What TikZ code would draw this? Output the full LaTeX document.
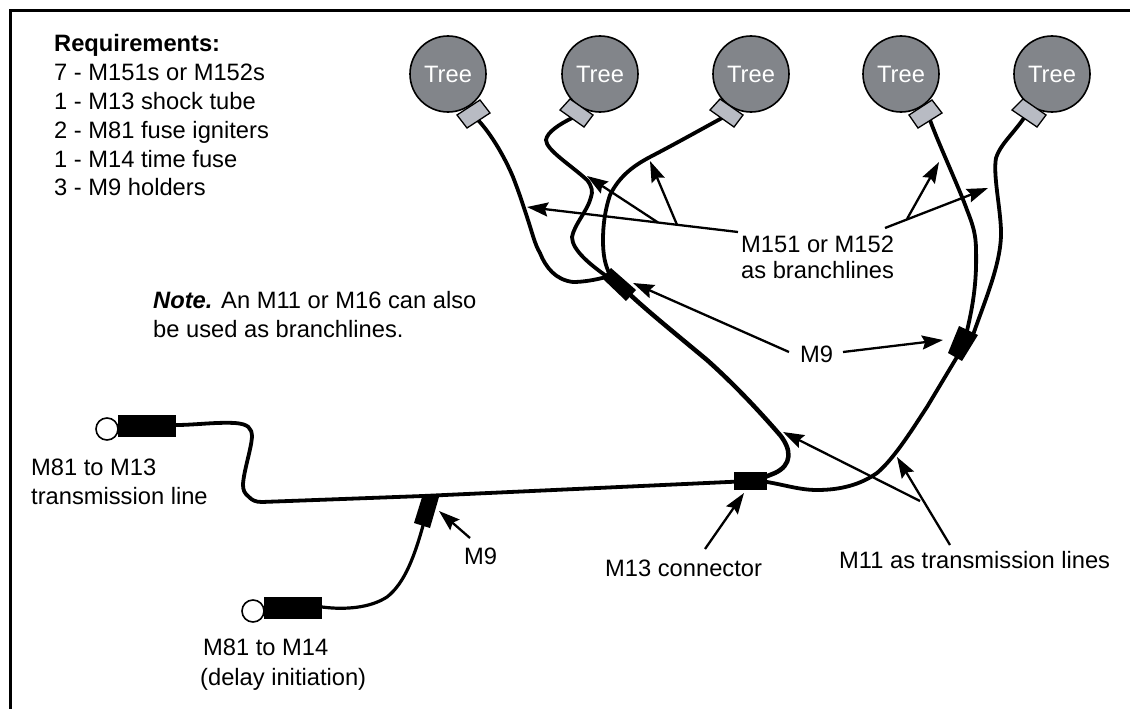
\documentclass[tikz,border=0pt]{standalone}
\usepackage{fontspec}
\setmainfont{Liberation Sans}
\usetikzlibrary{arrows.meta}
\tikzset{
  x=1pt,y=-1pt,
  label text/.style={inner sep=0pt,align=left,anchor=north west,font=\fontsize{23.7}{#1}\selectfont},
  label text/.default=29,
  wire/.style={line width=3.8pt,line cap=round,line join=round},
  thinwire/.style={line width=3.2pt,line cap=round,line join=round},
  thick wire/.style={line width=4.5pt,line cap=round,line join=round},
  pointer/.style={line width=2.3pt,-{Stealth[length=21pt,width=14pt,inset=3pt]}},
  tree/.style={circle,draw=black,line width=1.6pt,fill=treegray,text=white,minimum size=76pt,inner sep=0pt,font=\fontsize{23.7}{27}\selectfont},
  tcap/.style={draw=black,line width=1.3pt,fill=capgray},
  block/.style={fill=black,draw=none},
  igniter/.style={circle,draw=black,line width=1.6pt,fill=white,minimum size=22pt,inner sep=0pt},
}
\definecolor{treegray}{RGB}{130,133,138}
\definecolor{capgray}{RGB}{184,187,195}
\begin{document}
\begin{tikzpicture}
\useasboundingbox (0,0) rectangle (1130,709);
\draw[line width=3pt,black] (10,709) -- (10,11) -- (1130,11);

% named points
\coordinate (c1) at (478,120);
\coordinate (c2) at (572,118);
\coordinate (c3) at (722,118);
\coordinate (c4) at (930,120);
\coordinate (c5) at (1024,118);

% branch wires
\draw[wire] (c1) .. controls (492,135) and (505,158) .. (513,177)
  .. controls (520,195) and (523,205) .. (527,217)
  .. controls (532,232) and (535,245) .. (540,253)
  .. controls (546,268) and (556,280) .. (573,282)
  .. controls (583,282) and (595,280) .. (606,277);
\draw[wire] (c2) .. controls (560,124) and (547,132) .. (546,140)
  .. controls (546,150) and (572,166) .. (587,180)
  .. controls (592,186) and (593,192) .. (591,197)
  .. controls (588,210) and (574,225) .. (572,237)
  .. controls (572,250) and (590,265) .. (612,280);
\draw[wire] (c3) .. controls (700,130) and (675,144) .. (650,157)
  .. controls (635,165) and (620,175) .. (610,195)
  .. controls (605,210) and (603,225) .. (603,240)
  .. controls (603,255) and (605,265) .. (610,275);
\draw[wire] (c4) .. controls (937,140) and (960,190) .. (967,210)
  .. controls (973,225) and (976,235) .. (976,250)
  .. controls (977,285) and (972,310) .. (966,335);
\draw[wire] (c5) .. controls (1012,135) and (1000,145) .. (996,158)
  .. controls (993,175) and (1000,205) .. (1001,230)
  .. controls (1002,262) and (985,300) .. (973,335);

% trees
\node[tree] (t1) at (448,74) {Tree};
\node[tree] (t2) at (600,74) {Tree};
\node[tree] (t3) at (751,74) {Tree};
\node[tree] (t4) at (901,74) {Tree};
\node[tree] (t5) at (1052,74) {Tree};
% caps
\draw[tcap] (457,115) -- (480,100) -- (490,113) -- (467,128) -- cycle;
\draw[tcap] (560,110) -- (570,99) -- (593,115) -- (584,127) -- cycle;
\draw[tcap] (710,110) -- (720,99) -- (743,115) -- (734,127) -- cycle;
\draw[tcap] (909,115) -- (932,100) -- (942,113) -- (918,128) -- cycle;
\draw[tcap] (1012,110) -- (1023,99) -- (1046,115) -- (1037,127) -- cycle;

% transmission lines
\coordinate (m13w) at (750,481);
\draw[thick wire] (619,284) .. controls (640,305) and (665,325) .. (707,360)
  .. controls (735,385) and (760,412) .. (780,435)
  .. controls (792,450) and (792,465) .. (775,473) -- (760,479);
\draw[wire] (m13w) -- (767,482) .. controls (785,485) and (800,490) .. (817,490)
  .. controls (840,490) and (860,485) .. (877,473)
  .. controls (895,458) and (915,425) .. (927,407) -- (957,357);
\draw[wire] (m13w) -- (423,496) -- (262,502) .. controls (255,502) and (252,500) .. (249,497)
  .. controls (244,493) and (243,490) .. (243,484)
  .. controls (244,470) and (251,450) .. (252,437)
  .. controls (252,428) and (248,424) .. (235,423)
  .. controls (215,422) and (195,425) .. (176,425);
\draw[thinwire] (322,607) .. controls (345,610) and (370,608) .. (387,597)
  .. controls (405,583) and (415,555) .. (424,522);

% blocks
\node[block,minimum width=58pt,minimum height=22pt,inner sep=0pt] (b1) at (147,426) {};
\node[block,minimum width=58pt,minimum height=22pt,inner sep=0pt] (b2) at (293,608) {};
\node[igniter] (i1) at (107,429) {};
\node[igniter] (i2) at (253,611) {};
\node[block,minimum width=33pt,minimum height=18pt,inner sep=0pt] (m13) at (750,481) {};
\fill[black] (611,268) -- (636,290) -- (626,301) -- (602,278) -- cycle;
\fill[black] (959,326) -- (978,335) -- (962,361) -- (948,353) -- cycle;
\fill[black] (423,494) -- (439,497) -- (430,528) -- (414,523) -- cycle;

% pointers
\coordinate (p1) at (738,232);
\coordinate (p1a) at (658,222.5);
\coordinate (p1b) at (677,224.8);
\draw[pointer] (p1) -- (527,207);
\draw[pointer] (p1a) -- (587,176);
\draw[pointer] (p1b) -- (650,161);
\coordinate (p2) at (885,228);
\coordinate (p2a) at (907,219);
\draw[pointer] (p2) -- (988,188);
\draw[pointer] (p2a) -- (939,162);
\coordinate (p3) at (789,352);
\coordinate (p4) at (843,352);
\draw[pointer] (p3) -- (633,283);
\draw[pointer] (p4) -- (943,340);
\coordinate (p5) at (920,501);
\coordinate (p6) at (950,545);
\draw[pointer] (p5) -- (783,432);
\draw[pointer] (p6) -- (897,457);
\coordinate (p7) at (705,549);
\draw[pointer] (p7) -- (744,493);
\coordinate (p8) at (470,538);
\draw[pointer] (p8) -- (439,511);

% text
\node[label text=28.8] (req) at (54,34.5) {\textbf{Requirements:}\\7 - M151s or M152s\\1 - M13 shock tube\\2 - M81 fuse igniters\\1 - M14 time fuse\\3 - M9 holders};
\node[label text=29] (note) at (153,291.5) {\textbf{\textit{Note.}} An M11 or M16 can also\\be used as branchlines.};
\node[label text=26] (ml) at (741,235.5) {M151 or M152\\as branchlines};
\node[label text] (m9a) at (800,346) {M9};
\node[label text] (m9b) at (464,548) {M9};
\node[label text=29] (tl) at (31,458.5) {M81 to M13\\transmission line};
\node[label text=30] (dl) at (203,638.5) {M81 to M14\\\hspace*{-3pt}(delay initiation)};
\node[label text] (mc) at (605,559.5) {M13 connector};
\node[label text] (mt) at (839,551) {M11 as transmission lines};
\end{tikzpicture}
\end{document}
